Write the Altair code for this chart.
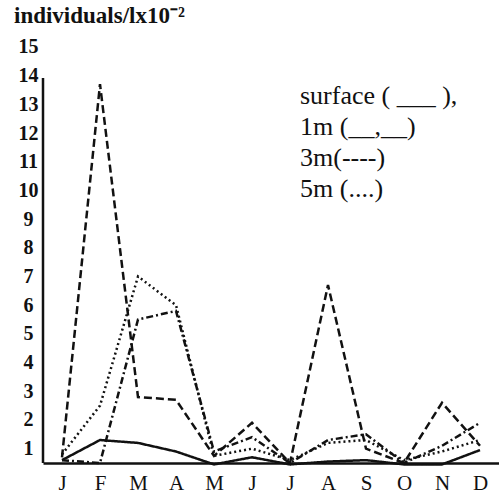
import altair as alt
import pandas as pd

# ---- data ----
month_labels = ["J", "F", "M", "A", "M", "J", "J", "A", "S", "O", "N", "D"]
surface = [0.6, 1.3, 1.2, 0.9, 0.45, 0.7, 0.45, 0.55, 0.6, 0.45, 0.45, 0.95]
m1 = [0.6, 0.5, 5.5, 5.8, 0.9, 1.4, 0.5, 1.3, 1.5, 0.5, 1.1, 1.9]
m3 = [0.7, 13.7, 2.8, 2.7, 0.75, 1.9, 0.5, 6.7, 1.0, 0.5, 2.6, 1.1]
m5 = [0.8, 2.5, 7.0, 6.0, 0.75, 1.0, 0.6, 1.2, 1.3, 0.6, 0.9, 1.3]
series_names = ["surface", "1m", "3m", "5m"]
y_ticks = list(range(1, 16))
legend_labels = ["surface ( ___ ),", "1m (__,__)", "3m(----)", "5m (....)"]
y_title = "individuals/lx10\u207b\u00b2"

rows = []
for name, vals in zip(series_names, [surface, m1, m3, m5]):
    for i, v in enumerate(vals):
        rows.append({"series": name, "idx": i, "value": v})
df = pd.DataFrame(rows)

SERIF = "Liberation Serif"
INK = "#111111"
W, H = 456, 429

label_expr = "[" + ",".join('"%s"' % m for m in month_labels) + "][datum.value]"

x_enc = alt.X(
    "idx:Q",
    scale=alt.Scale(domain=[-0.5, 11.5], nice=False, zero=False),
    axis=alt.Axis(
        values=list(range(12)), labelExpr=label_expr, title=None, grid=False,
        ticks=False, domain=True, domainColor=INK, domainWidth=2.5,
        labelFont=SERIF, labelFontSize=21, labelColor=INK, labelPadding=9,
        labelBaseline="top", labelOverlap=False,
    ),
)
y_scale = alt.Scale(domain=[0.5, 15.45], nice=False, zero=False)
y_enc = alt.Y(
    "value:Q",
    scale=y_scale,
    axis=alt.Axis(
        values=y_ticks, title=None, grid=False, ticks=False, domain=False,
        labelFont=SERIF, labelFontSize=20, labelFontWeight="bold",
        labelColor=INK, labelAlign="center", labelPadding=15,
        labelBaseline="middle", labelOverlap=False, labelSeparation=0,
    ),
)

lines = alt.Chart(df).mark_line(strokeWidth=2.5, color=INK).encode(
    x=x_enc,
    y=y_enc,
    strokeDash=alt.StrokeDash(
        "series:N",
        scale=alt.Scale(domain=series_names,
                        range=[[1, 0], [7, 3, 2, 3], [8, 4], [2, 3]]),
        legend=None,
    ),
    detail="series:N",
)

# vertical axis line (decoration), stops a little below the "14" label
y_axis_line = alt.Chart(pd.DataFrame({"a": [0]})).mark_rule(
    color=INK, strokeWidth=2.5
).encode(x=alt.value(0), y=alt.value(44), y2=alt.value(H))

title_txt = alt.Chart(pd.DataFrame({"t": [y_title]})).mark_text(
    font=SERIF, fontSize=23, fontWeight="bold", color=INK,
    align="left", baseline="middle",
).encode(x=alt.value(-29), y=alt.value(-18), text="t:N")

legend_layers = []
for i, lab in enumerate(legend_labels):
    legend_layers.append(
        alt.Chart(pd.DataFrame({"t": [lab]})).mark_text(
            font=SERIF, fontSize=26, color=INK, align="left",
            baseline="middle",
        ).encode(x=alt.value(257), y=alt.value(62 + i * 31), text="t:N")
    )

chart = alt.layer(lines, y_axis_line, title_txt, *legend_layers).properties(
    width=W, height=H,
    autosize=alt.AutoSizeParams(type="none"),
    padding={"left": 43, "top": 34, "right": 0, "bottom": 41},
    background="white",
).configure_view(stroke=None).configure_axis(labelOverlap=False)

chart.save("out.html", embed_options={"renderer": "svg", "actions": False})
